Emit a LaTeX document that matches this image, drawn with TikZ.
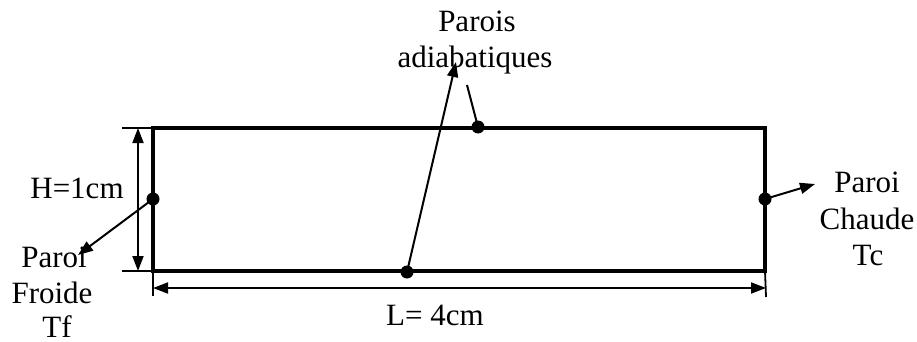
\documentclass[tikz,border=0pt]{standalone}
\usepackage{fontspec}
\setmainfont{Liberation Serif}
\usetikzlibrary{arrows.meta}
\begin{document}
\begin{tikzpicture}[x=1pt,y=-1pt,
  lbl/.style={inner sep=0pt,anchor=base,font=\fontsize{31}{36}\selectfont},
  wall/.style={line width=4.5pt},
  thin/.style={line width=1.8pt},
  dim/.style={line width=1.8pt,{Triangle[length=15pt,width=11pt]}-{Triangle[length=15pt,width=11pt]}},
  pointer/.style={line width=2pt,-{Triangle[length=15pt,width=11pt]}},
  dot/.style={circle,fill=black,inner sep=0pt,minimum size=13pt}]
\useasboundingbox (0,0) rectangle (917,342);
% corners
\coordinate (tl) at (153,128);
\coordinate (tr) at (765,128);
\coordinate (br) at (765,271);
\coordinate (bl) at (153,271);
% dimension references
\coordinate (ht) at (122,128);
\coordinate (hb) at (122,271);
\coordinate (vt) at (138,128);
\coordinate (vb) at (138,271);
\coordinate (el) at (153,296);
\coordinate (er) at (766,297);
\coordinate (dl) at (153,288);
\coordinate (dr) at (766,288);
% extension lines
\draw[thin] (ht) -- (tl);
\draw[thin] (hb) -- (bl);
\draw[thin] (bl) -- (el);
\draw[thin] (br) -- (er);
% dimension lines
\draw[dim] (vt) -- (vb);
\draw[dim] (dl) -- (dr);
% rectangle
\draw[wall] (tl) -- (tr) -- (br) -- (bl) -- cycle;
% dots
\node[dot] (dleft) at (153,199) {};
\node[dot] (dright) at (765,199) {};
\node[dot] (dbot) at (407,272) {};
\node[dot] (dtop) at (478,127) {};
% pointer ends
\coordinate (tipA) at (456,62);
\coordinate (endB) at (467,85);
\coordinate (tipL) at (78,255);
\coordinate (tipR) at (815,184);
\draw[pointer] (dbot.center) -- (tipA);
\draw[line width=2pt] (dtop.center) -- (endB);
\draw[pointer] (dleft.center) -- (tipL);
\draw[pointer] (dright.center) -- (tipR);
% labels
\node[lbl] (pa1) at (477,32) {Parois};
\node[lbl] (pa2) at (475,68) {adiabatiques};
\node[lbl] (h) at (77,198) {H=1cm};
\node[lbl] (l) at (435,325) {L= 4cm};
\node[lbl] (pf1) at (54,267) {Paroi};
\node[lbl] (pf2) at (52,303) {Froide};
\node[lbl,text depth=0pt] (pf3) at (57,337) {Tf};
\node[lbl] (pc1) at (867,192) {Paroi};
\node[lbl] (pc2) at (867,229) {Chaude};
\node[lbl] (pc3) at (868,265) {Tc};
\end{tikzpicture}
\end{document}
